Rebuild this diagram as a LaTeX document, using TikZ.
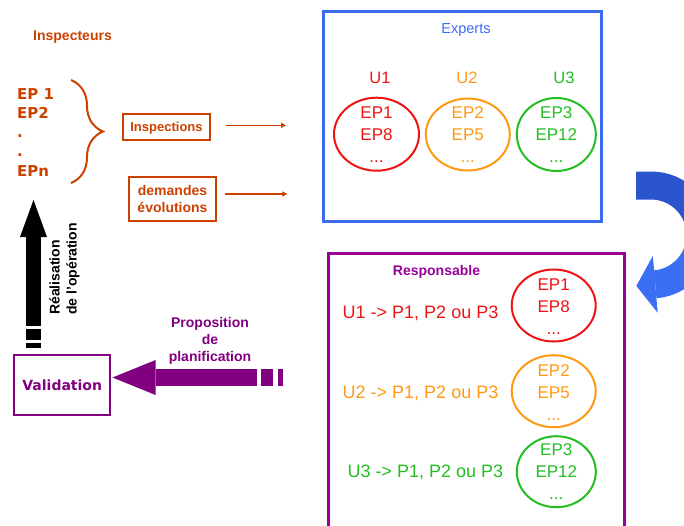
\documentclass[tikz,border=0pt]{standalone}
\usepackage{fontspec}
\setmainfont{Liberation Sans}
\newfontfamily\verdfont{DejaVu Sans}
\usetikzlibrary{arrows.meta,shapes.geometric,decorations.pathreplacing}
\definecolor{rouille}{RGB}{204,64,0}
\definecolor{bleu}{RGB}{59,108,240}
\definecolor{bleufonce}{RGB}{43,85,204}
\definecolor{bleuclair}{RGB}{58,110,245}
\definecolor{urouge}{RGB}{238,20,20}
\definecolor{uorange}{RGB}{255,153,20}
\definecolor{uvert}{RGB}{34,190,34}
\definecolor{violetbox}{RGB}{153,0,153}
\definecolor{prune}{RGB}{128,0,128}
\begin{document}
\begin{tikzpicture}[x=1pt,y=-1pt,
    every node/.style={inner sep=0pt,text depth=0pt},
    titre/.style={font=\fontsize{14}{17}\selectfont\bfseries},
    boite/.style={draw=rouille,text=rouille,titre,align=center},
    groupe/.style={ellipse,draw=#1,line width=2pt,minimum width=84,minimum height=72},
    liste/.style={text=#1,align=center,font=\fontsize{17}{22}\selectfont},
    unite/.style={text=#1,font=\fontsize{16.5}{20}\selectfont},
    regle/.style={text=#1,font=\fontsize{18}{20}\selectfont},
    fleche/.style={draw=rouille,line width=1.5pt,-{Triangle[length=5pt,width=5pt]}}]
  \useasboundingbox (0,0) rectangle (684,525);

  \node[titre,text=rouille] (inspecteurs) at (72.5,35.5) {Inspecteurs};
  \node[anchor=base west,text=rouille,font=\verdfont\fontsize{15}{18}\selectfont\bfseries] (ep1) at (17,99.3) {EP 1};
  \node[anchor=base west,text=rouille,font=\verdfont\fontsize{15}{18}\selectfont\bfseries] (ep2) at (17,118.5) {EP2};
  \node[anchor=base west,text=rouille,font=\verdfont\fontsize{15}{18}\selectfont\bfseries] (ep3) at (17,137.7) {.};
  \node[anchor=base west,text=rouille,font=\verdfont\fontsize{15}{18}\selectfont\bfseries] (ep4) at (17,156.9) {.};
  \node[anchor=base west,text=rouille,font=\verdfont\fontsize{15}{18}\selectfont\bfseries] (ep5) at (17,176.1) {EPn};
  \coordinate (bh) at (71,80);
  \coordinate (bb) at (71,183);
  \draw[rouille,line width=2pt,decorate,decoration={brace,amplitude=32pt}] (bh) -- (bb);

  \node[boite,line width=2pt,minimum width=87,minimum height=26,font=\fontsize{13}{16}\selectfont\bfseries] (inspections) at (166.5,127) {Inspections};
  \node[boite,line width=2.6pt,minimum width=87,minimum height=44] (demandes) at (172.5,199) {demandes\\évolutions};
  \draw[fleche] ([xshift=15pt,yshift=1.7pt]inspections.east) -- ++(60,0);
  \draw[fleche] ([xshift=8pt,yshift=5pt]demandes.east) -- ++(62,0);

  \node[draw=bleu,line width=3pt,minimum width=278,minimum height=210] (experts) at (462.2,116.3) {};
  \node[text=bleu,font=\fontsize{14.5}{17}\selectfont] (titreexp) at (466,28.5) {Experts};
  \node[unite=urouge] (u1) at (380,77.5) {U1};
  \node[unite=uorange] (u2) at (467,77.5) {U2};
  \node[unite=uvert] (u3) at (564,77.5) {U3};
  \node[groupe=urouge,minimum width=85,minimum height=73] (e1) at (376.5,134.2) {};
  \node[groupe=uorange] (e2) at (467.8,134.5) {};
  \node[groupe=uvert,minimum width=79,minimum height=73] (e3) at (556.3,134.5) {};
  \node[liste=urouge] at (e1) {EP1\\EP8\\...};
  \node[liste=uorange] at (e2) {EP2\\EP5\\...};
  \node[liste=uvert] at (e3) {EP3\\EP12\\...};

  \draw[bleufonce,line width=28pt] (636,185.5) -- (651,185.5) arc[start angle=-90,end angle=0,radius=49.5];
  \draw[bleuclair,line width=28pt,-{Triangle[length=19pt,width=57pt,line width=0pt]}] (700.5,235) arc[start angle=0,end angle=85,radius=49.5] -- ++(-19,1.6);

  \node[draw=violetbox,line width=3pt,minimum width=295.7,minimum height=282] (responsable) at (476.4,394.1) {};
  \node[titre,text=violetbox] (titreresp) at (436.5,270) {Responsable};
  \node[regle=urouge] (p1) at (420.5,312.7) {U1 -> P1, P2 ou P3};
  \node[regle=uorange] (p2) at (420.5,392.7) {U2 -> P1, P2 ou P3};
  \node[regle=uvert] (p3) at (425.3,471.7) {U3 -> P1, P2 ou P3};
  \node[groupe=urouge] (r1) at (553.7,305.5) {};
  \node[groupe=uorange] (r2) at (553.7,391.2) {};
  \node[groupe=uvert,minimum width=79,minimum height=71] (r3) at (556.3,471.7) {};
  \node[liste=urouge] at ([yshift=-1pt]r1) {EP1\\EP8\\...};
  \node[liste=uorange] at ([yshift=-1.5pt]r2) {EP2\\EP5\\...};
  \node[liste=uvert] at (r3) {EP3\\EP12\\...};

  \node[draw=prune,line width=2pt,minimum width=95.7,minimum height=59.4,text=prune,font=\verdfont\fontsize{14}{17}\selectfont\bfseries] (validation) at (62.2,385) {Validation};
  \coordinate (pb) at (256.7,377.5);
  \draw[prune,line width=17pt,-{Triangle[length=43pt,width=35pt,line width=0pt]}] (pb) -- ([xshift=1.5pt,yshift=7.5pt]validation.east);
  \fill[prune] (261,369) rectangle (273.3,386);
  \fill[prune] (277.7,369) rectangle (283.3,386);
  \node[titre,text=prune,align=center] (proposition) at (210,339) {Proposition\\de\\planification};

  \coordinate (rb) at (33.5,325.7);
  \coordinate (rh) at (33.5,200);
  \draw[line width=15pt,-{Triangle[length=37pt,width=27pt,line width=0pt]}] (rb) -- (rh);
  \fill (26,329.3) rectangle (41,340);
  \fill (26,343.3) rectangle (41,348.3);
  \node[titre,rotate=90,anchor=west,align=left] (realisation) at (63,315) {Réalisation\\de l'opération};
\end{tikzpicture}
\end{document}
